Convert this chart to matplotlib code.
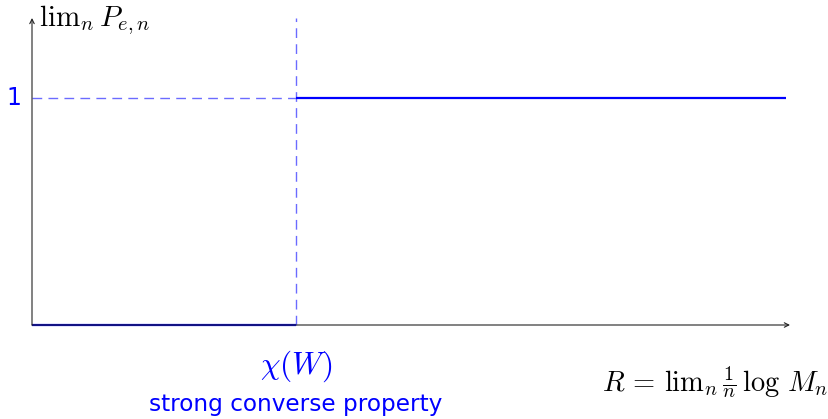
import matplotlib
matplotlib.use('Agg')
import matplotlib.pyplot as plt

plt.rcParams['mathtext.fontset'] = 'cm'

# step shape of the limiting error probability
chi = 1.0
rate_low = [0.0, chi]
err_low = [0.0, 0.0]
rate_high = [chi, 2.855]
err_high = [1.0, 1.0]
ytick_value = 1.0
ytick_label = '1'

W, H = 829, 419
x0, y0 = 32, 325          # origin in pixels
sx, sy = 264.0, 227.0     # pixels per data unit

fig = plt.figure(figsize=(W / 100, H / 100), dpi=100)
ax = fig.add_axes([0, 0, 1, 1])
ax.set_xlim(-x0 / sx, (W - x0) / sx)
ax.set_ylim((y0 - H) / sy, y0 / sy)
ax.axis('off')

blue = '#0000ff'
dash_blue = '#6b6bff'

# axes with arrow heads
arrow = dict(arrowstyle='->', color='#222222', lw=0.8, shrinkA=0, shrinkB=0,
             mutation_scale=8)
ax.annotate('', xy=((790 - x0) / sx, 0), xytext=(0, 0), arrowprops=arrow)
ax.annotate('', xy=(0, (y0 - 18) / sy), xytext=(0, 0), arrowprops=arrow)

# dashed guides
ax.plot([chi, chi], [0, (y0 - 18) / sy], color=dash_blue, lw=1.0,
        dashes=(7, 4.5))
ax.plot([0, chi], [ytick_value, ytick_value], color=dash_blue, lw=1.0,
        dashes=(7, 4.5))

# solid step segments
ax.plot(rate_low, err_low, color=blue, lw=1.6, solid_capstyle='butt')
ax.plot(rate_high, err_high, color=blue, lw=1.6, solid_capstyle='butt')

# labels
ax.text(-11 / sx, ytick_value, ytick_label, color=blue, fontsize=17,
        ha='right', va='center')
ax.text(7 / sx, (y0 - 20) / sy, r'$\mathrm{lim}_n\, P_{e,n}$', fontsize=21,
        ha='left', va='center')
ax.text(chi, (y0 - 366) / sy, r'$\chi(W)$', color=blue, fontsize=22.5,
        ha='center', va='center')
ax.text(chi, (y0 - 404) / sy, 'strong converse property', color=blue,
        fontsize=16.7, ha='center', va='center')
ax.text((828 - x0) / sx, (y0 - 382) / sy,
        r'$R\,=\,\mathrm{lim}_n\, \frac{1}{n}\, \log\, M_n$', fontsize=20.5,
        ha='right', va='center')

fig.savefig('out.png', dpi=100)
